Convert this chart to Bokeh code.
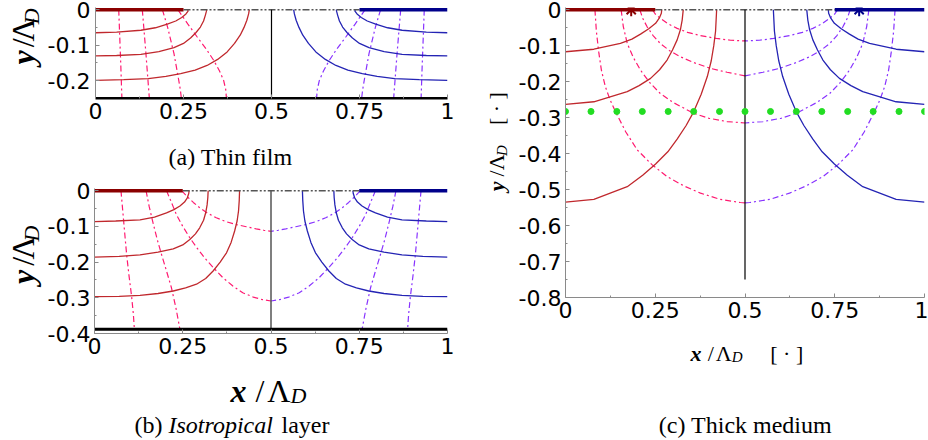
import math
from bokeh.plotting import figure
from bokeh.models import Range1d, FixedTicker
from bokeh.core.properties import value
from bokeh.layouts import row, column
from bokeh.embed import file_html
from bokeh.resources import INLINE

# ---------------- data ----------------
x_ticks = [0, 0.25, 0.5, 0.75, 1]
x_tick_labels = ["0", "0.25", "0.5", "0.75", "1"]
x_minor = [0.125, 0.375, 0.625, 0.875]
ya_ticks = [0, -0.1, -0.2]
ya_labels = ["0", "-0.1", "-0.2"]
yb_ticks = [0, -0.1, -0.2, -0.3, -0.4]
yb_labels = ["0", "-0.1", "-0.2", "-0.3", "-0.4"]
yc_ticks = [0, -0.1, -0.2, -0.3, -0.4, -0.5, -0.6, -0.7, -0.8]
yc_labels = ["0", "-0.1", "-0.2", "-0.3", "-0.4", "-0.5", "-0.6", "-0.7", "-0.8"]

elec_left_x = [0, 0.25]
elec_right_x = [0.75, 1]
gap_x = [0.25, 0.75]
surface_y = [0, 0]

# (a) thin film, depth -0.25
a_bottom_y = -0.25
a_red = [
    ([0, 0.06, 0.129, 0.17, 0.204, 0.228, 0.245, 0.257, 0.263, 0.262],
     [-0.065, -0.063, -0.058, -0.051, -0.041, -0.032, -0.022, -0.012, -0.004, 0]),
    ([0, 0.06, 0.129, 0.18, 0.223, 0.25, 0.27, 0.285, 0.298, 0.307, 0.312, 0.315, 0.316],
     [-0.13, -0.129, -0.126, -0.118, -0.107, -0.095, -0.08, -0.065, -0.049, -0.032, -0.016, -0.005, 0]),
    ([0, 0.08, 0.15, 0.2, 0.242, 0.283, 0.317, 0.347, 0.374, 0.395, 0.411, 0.422, 0.43, 0.435, 0.437],
     [-0.199, -0.197, -0.194, -0.188, -0.18, -0.17, -0.157, -0.14, -0.119, -0.095, -0.072, -0.05, -0.03, -0.012, 0]),
]
a_blue = [
    ([1, 0.94, 0.871, 0.83, 0.796, 0.772, 0.755, 0.743, 0.737, 0.738],
     [-0.065, -0.063, -0.058, -0.051, -0.041, -0.032, -0.022, -0.012, -0.004, 0]),
    ([1, 0.94, 0.871, 0.82, 0.777, 0.75, 0.73, 0.715, 0.702, 0.693, 0.688, 0.685, 0.684],
     [-0.13, -0.129, -0.126, -0.118, -0.107, -0.095, -0.08, -0.065, -0.049, -0.032, -0.016, -0.005, 0]),
    ([1, 0.92, 0.85, 0.8, 0.758, 0.717, 0.683, 0.653, 0.626, 0.605, 0.589, 0.578, 0.57, 0.565, 0.563],
     [-0.199, -0.197, -0.194, -0.188, -0.18, -0.17, -0.157, -0.14, -0.119, -0.095, -0.072, -0.05, -0.03, -0.012, 0]),
]
a_pink = [
    ([0.066, 0.069, 0.072, 0.075], [0, -0.08, -0.16, -0.25]),
    ([0.133, 0.138, 0.143, 0.148, 0.153], [0, -0.06, -0.12, -0.185, -0.25]),
    ([0.19, 0.205, 0.223, 0.235, 0.241, 0.244], [0, -0.05, -0.124, -0.19, -0.225, -0.25]),
    ([0.234, 0.262, 0.289, 0.314, 0.336, 0.352, 0.364, 0.37, 0.372],
     [0, -0.04, -0.077, -0.11, -0.143, -0.172, -0.199, -0.225, -0.25]),
]
a_violet = [
    ([0.934, 0.931, 0.928, 0.925], [0, -0.08, -0.16, -0.25]),
    ([0.867, 0.862, 0.857, 0.852, 0.847], [0, -0.06, -0.12, -0.185, -0.25]),
    ([0.81, 0.795, 0.777, 0.765, 0.759, 0.756], [0, -0.05, -0.124, -0.19, -0.225, -0.25]),
    ([0.766, 0.738, 0.711, 0.686, 0.664, 0.648, 0.636, 0.63, 0.628],
     [0, -0.04, -0.077, -0.11, -0.143, -0.172, -0.199, -0.225, -0.25]),
]

# (b) isotropical layer, bottom -0.388
b_bottom_y = -0.388
b_red = [
    ([0, 0.06, 0.129, 0.17, 0.204, 0.225, 0.242, 0.255, 0.263, 0.267, 0.268],
     [-0.087, -0.085, -0.082, -0.074, -0.062, -0.053, -0.043, -0.032, -0.02, -0.008, 0]),
    ([0, 0.07, 0.129, 0.18, 0.223, 0.25, 0.27, 0.286, 0.298, 0.309, 0.315, 0.319, 0.321, 0.322],
     [-0.186, -0.184, -0.18, -0.172, -0.163, -0.152, -0.137, -0.121, -0.104, -0.083, -0.062, -0.04, -0.02, 0]),
    ([0, 0.07, 0.129, 0.18, 0.223, 0.258, 0.289, 0.315, 0.336, 0.356, 0.374, 0.387, 0.397, 0.404, 0.408, 0.41, 0.411],
     [-0.297, -0.296, -0.293, -0.288, -0.281, -0.272, -0.262, -0.246, -0.225, -0.2, -0.174, -0.145, -0.113, -0.085, -0.057, -0.028, 0]),
]
b_blue = [
    ([1, 0.94, 0.871, 0.83, 0.796, 0.775, 0.758, 0.745, 0.737, 0.733, 0.732],
     [-0.087, -0.085, -0.082, -0.074, -0.062, -0.053, -0.043, -0.032, -0.02, -0.008, 0]),
    ([1, 0.93, 0.871, 0.82, 0.777, 0.75, 0.73, 0.714, 0.702, 0.691, 0.685, 0.681, 0.679, 0.678],
     [-0.186, -0.184, -0.18, -0.172, -0.163, -0.152, -0.137, -0.121, -0.104, -0.083, -0.062, -0.04, -0.02, 0]),
    ([1, 0.93, 0.871, 0.82, 0.777, 0.742, 0.711, 0.685, 0.664, 0.644, 0.626, 0.613, 0.603, 0.596, 0.592, 0.59, 0.589],
     [-0.297, -0.296, -0.293, -0.288, -0.281, -0.272, -0.262, -0.246, -0.225, -0.2, -0.174, -0.145, -0.113, -0.085, -0.057, -0.028, 0]),
]
b_pink = [
    ([0.075, 0.083, 0.091, 0.098, 0.105, 0.11, 0.113], [0, -0.09, -0.179, -0.24, -0.295, -0.345, -0.388]),
    ([0.146, 0.155, 0.167, 0.178, 0.19, 0.204, 0.218, 0.231, 0.242],
     [0, -0.045, -0.095, -0.138, -0.179, -0.225, -0.272, -0.33, -0.388]),
    ([0.204, 0.218, 0.232, 0.25, 0.27, 0.29, 0.312, 0.337, 0.364, 0.392, 0.42, 0.45, 0.475, 0.5],
     [0, -0.033, -0.067, -0.1, -0.132, -0.16, -0.188, -0.216, -0.244, -0.267, -0.286, -0.298, -0.305, -0.309]),
    ([0.247, 0.262, 0.28, 0.298, 0.32, 0.345, 0.373, 0.402, 0.43, 0.458, 0.48, 0.5],
     [0, -0.016, -0.033, -0.048, -0.063, -0.076, -0.087, -0.095, -0.101, -0.107, -0.111, -0.114]),
]
b_violet = [
    ([0.925, 0.917, 0.909, 0.902, 0.895, 0.89, 0.887], [0, -0.09, -0.179, -0.24, -0.295, -0.345, -0.388]),
    ([0.854, 0.845, 0.833, 0.822, 0.81, 0.796, 0.782, 0.769, 0.758],
     [0, -0.045, -0.095, -0.138, -0.179, -0.225, -0.272, -0.33, -0.388]),
    ([0.796, 0.782, 0.768, 0.75, 0.73, 0.71, 0.688, 0.663, 0.636, 0.608, 0.58, 0.55, 0.525, 0.5],
     [0, -0.033, -0.067, -0.1, -0.132, -0.16, -0.188, -0.216, -0.244, -0.267, -0.286, -0.298, -0.305, -0.309]),
    ([0.753, 0.738, 0.72, 0.702, 0.68, 0.655, 0.627, 0.598, 0.57, 0.542, 0.52, 0.5],
     [0, -0.016, -0.033, -0.048, -0.063, -0.076, -0.087, -0.095, -0.101, -0.107, -0.111, -0.114]),
]

# (c) thick medium
c_mid_y = [0, -0.75]
c_red = [
    ([0, 0.079, 0.153, 0.185, 0.209, 0.232, 0.251, 0.262, 0.267, 0.268],
     [-0.117, -0.11, -0.094, -0.082, -0.068, -0.053, -0.038, -0.022, -0.01, 0]),
    ([0, 0.079, 0.172, 0.205, 0.237, 0.262, 0.283, 0.298, 0.311, 0.32, 0.325, 0.328],
     [-0.263, -0.256, -0.228, -0.211, -0.191, -0.167, -0.14, -0.112, -0.084, -0.056, -0.029, 0]),
    ([0, 0.079, 0.172, 0.215, 0.251, 0.285, 0.311, 0.336, 0.357, 0.378, 0.395, 0.406, 0.413, 0.418, 0.421],
     [-0.535, -0.527, -0.492, -0.46, -0.429, -0.395, -0.36, -0.322, -0.284, -0.235, -0.186, -0.142, -0.1, -0.06, 0]),
]
c_blue = [
    ([1, 0.921, 0.847, 0.815, 0.791, 0.768, 0.749, 0.738, 0.733, 0.732],
     [-0.117, -0.11, -0.094, -0.082, -0.068, -0.053, -0.038, -0.022, -0.01, 0]),
    ([1, 0.921, 0.828, 0.795, 0.763, 0.738, 0.717, 0.702, 0.689, 0.68, 0.675, 0.672],
     [-0.263, -0.256, -0.228, -0.211, -0.191, -0.167, -0.14, -0.112, -0.084, -0.056, -0.029, 0]),
    ([1, 0.921, 0.828, 0.785, 0.749, 0.715, 0.689, 0.664, 0.643, 0.622, 0.605, 0.594, 0.587, 0.582, 0.579],
     [-0.535, -0.527, -0.492, -0.46, -0.429, -0.395, -0.36, -0.322, -0.284, -0.235, -0.186, -0.142, -0.1, -0.06, 0]),
]
c_pink = [
    ([0.082, 0.086, 0.093, 0.1, 0.111, 0.124, 0.14, 0.168, 0.2, 0.24, 0.283, 0.33, 0.376, 0.43, 0.487, 0.5],
     [0, -0.06, -0.121, -0.168, -0.214, -0.25, -0.285, -0.34, -0.39, -0.43, -0.464, -0.49, -0.51, -0.527, -0.536, -0.537]),
    ([0.155, 0.161, 0.172, 0.189, 0.209, 0.234, 0.264, 0.3, 0.357, 0.4, 0.45, 0.5],
     [0, -0.047, -0.094, -0.133, -0.168, -0.202, -0.233, -0.258, -0.288, -0.302, -0.311, -0.315]),
    ([0.207, 0.215, 0.227, 0.244, 0.264, 0.29, 0.32, 0.36, 0.403, 0.45, 0.5],
     [0, -0.024, -0.047, -0.072, -0.094, -0.114, -0.131, -0.148, -0.163, -0.174, -0.184]),
    ([0.242, 0.25, 0.264, 0.285, 0.311, 0.34, 0.376, 0.42, 0.46, 0.5],
     [0, -0.012, -0.024, -0.039, -0.052, -0.063, -0.072, -0.08, -0.085, -0.087]),
]
c_violet = [
    ([0.918, 0.914, 0.907, 0.9, 0.889, 0.876, 0.86, 0.832, 0.8, 0.76, 0.717, 0.67, 0.624, 0.57, 0.513, 0.5],
     [0, -0.06, -0.121, -0.168, -0.214, -0.25, -0.285, -0.34, -0.39, -0.43, -0.464, -0.49, -0.51, -0.527, -0.536, -0.537]),
    ([0.845, 0.839, 0.828, 0.811, 0.791, 0.766, 0.736, 0.7, 0.643, 0.6, 0.55, 0.5],
     [0, -0.047, -0.094, -0.133, -0.168, -0.202, -0.233, -0.258, -0.288, -0.302, -0.311, -0.315]),
    ([0.793, 0.785, 0.773, 0.756, 0.736, 0.71, 0.68, 0.64, 0.597, 0.55, 0.5],
     [0, -0.024, -0.047, -0.072, -0.094, -0.114, -0.131, -0.148, -0.163, -0.174, -0.184]),
    ([0.758, 0.75, 0.736, 0.715, 0.689, 0.66, 0.624, 0.58, 0.54, 0.5],
     [0, -0.012, -0.024, -0.039, -0.052, -0.063, -0.072, -0.08, -0.085, -0.087]),
]
dots_x = [0, 0.071, 0.143, 0.214, 0.286, 0.357, 0.429, 0.5, 0.571, 0.643, 0.714, 0.786, 0.857, 0.929, 1.0]
dots_y = [-0.283] * 15
star_red = ([0.183], [0])
star_blue = ([0.818], [0])

caption_a = "(a) Thin film"
caption_b = ["(b)", "Isotropical", "layer"]
caption_c = "(c) Thick medium"

# ---------------- style ----------------
RED_E = "#8b0000"
BLUE_E = "#00008b"
RED = "#c0282d"
BLUE = "#2424b4"
PINK = "#ff1a70"
VIOLET = "#8833ff"
GREEN = "#22dd22"
AXIS = "#8a8a8a"
DASH = "6 3 2 3"
TICK_FONT = "DejaVu Sans"
SERIF = "Liberation Serif"


def make_fig(width, height, left, right, top, bottom, yr, yt, yl, yminor, ystand=4):
    p = figure(width=width, height=height, x_range=Range1d(0, 1), y_range=Range1d(*yr),
               output_backend="svg", toolbar_location=None,
               min_border_left=left, min_border_right=right,
               min_border_top=top, min_border_bottom=bottom)
    p.outline_line_color = None
    p.grid.visible = False
    p.background_fill_color = "white"
    p.border_fill_color = "white"
    p.xaxis.ticker = FixedTicker(ticks=x_ticks, minor_ticks=x_minor)
    p.xaxis.major_label_overrides = dict(zip(x_ticks, x_tick_labels))
    p.yaxis.ticker = FixedTicker(ticks=yt, minor_ticks=yminor)
    p.yaxis.major_label_overrides = dict(zip(yt, yl))
    for ax in (p.xaxis[0], p.yaxis[0]):
        ax.axis_line_color = AXIS
        ax.major_tick_line_color = AXIS
        ax.minor_tick_line_color = AXIS
        ax.major_tick_in = 4
        ax.major_tick_out = 0
        ax.minor_tick_in = 2
        ax.minor_tick_out = 0
        ax.major_label_text_font = TICK_FONT
        ax.major_label_text_font_size = "22px"
        ax.major_label_text_color = "black"
    p.xaxis.major_label_standoff = 4
    p.yaxis.major_label_standoff = ystand
    return p


def blank(w, h):
    p = figure(width=w, height=h, x_range=Range1d(0, w), y_range=Range1d(0, h),
               output_backend="svg", toolbar_location=None,
               x_axis_type=None, y_axis_type=None, min_border=0)
    p.outline_line_color = None
    p.grid.visible = False
    p.background_fill_color = "white"
    p.border_fill_color = "white"
    return p


class Canvas:
    """A blank text strip placed at global pixel offset (gx0, gy0)."""
    def __init__(self, gx0, gy0, w, h):
        self.gx0, self.gy0, self.w, self.h = gx0, gy0, w, h
        self.p = blank(w, h)

    def text(self, gx, gy, s, size, style="normal", angle=0.0, align="left",
             baseline="alphabetic", font=SERIF):
        self.p.text(x=[gx - self.gx0], y=[self.h - (gy - self.gy0)], text=[s], angle=angle,
                    text_font=value(font), text_font_size=value(f"{size}px"),
                    text_font_style=value(style), text_align=value(align),
                    text_baseline=value(baseline), text_color="black")

    def compose(self, gx, gy, pieces, vertical=False):
        # pieces: (text, size, style, glyph_w, advance_px, sub_px)
        for s, size, style, gw, adv, sub in pieces:
            if vertical:
                # rotated text: anchor each piece at its centre (rotation-invariant)
                cx = gx + sub - 0.33 * size
                cy = gy - gw / 2.0
                self.text(cx, cy, s, size, style, angle=math.pi / 2,
                          align="center", baseline="middle")
                gy -= adv
            else:
                self.text(gx, gy + sub, s, size, style)
                gx += adv


def ax_pieces(var, big, bracket=False):
    k = big / 32.0
    small = round(big * 0.69)
    pcs = [(var, big, "bold italic", 16 * k, 25 * k, 0),
           ("/", big, "normal", 9 * k, 11.7 * k, 0),
           ("\u039b", big, "normal", 23 * k, 23.3 * k, 0),
           ("D", small, "italic", 16 * k, 16 * k + (40 * k if bracket else 0), 5 * k)]
    if bracket:
        pcs.append(("[ \u00b7 ]", big, "normal", 45 * k, 0, 0))
    return pcs


def draw_common(p, red, blue, pink, violet):
    for xs, ys in pink:
        p.line(xs, ys, line_color=PINK, line_width=1.2, line_dash=DASH)
    for xs, ys in violet:
        p.line(xs, ys, line_color=VIOLET, line_width=1.2, line_dash=DASH)
    for xs, ys in red:
        p.line(xs, ys, line_color=RED, line_width=1.3)
    for xs, ys in blue:
        p.line(xs, ys, line_color=BLUE, line_width=1.3)
    p.line(gap_x, surface_y, line_color="#555555", line_width=1.5, line_dash="7 2 2 2 2 2")
    p.line(elec_left_x, surface_y, line_color=RED_E, line_width=3.5)
    p.line(elec_right_x, surface_y, line_color=BLUE_E, line_width=3.5)


# ---------------- panel (a) ----------------
pa = make_fig(416, 133, 48, 13, 7, 35, (-0.25, 0.006), ya_ticks, ya_labels, [-0.05, -0.15], ystand=5)
pa.xaxis.axis_line_color = "black"
pa.xaxis.axis_line_width = 2
draw_common(pa, a_red, a_blue, a_pink, a_violet)
pa.line([0.5, 0.5], [0, a_bottom_y], line_color="black", line_width=1.2)
pa.line([0, 1], [a_bottom_y, a_bottom_y], line_color="black", line_width=3)

ylab_a = Canvas(0, 0, 44, 133)
ylab_a.compose(33, 81, ax_pieces("y", 32), vertical=True)
cap_a = Canvas(0, 133, 460, 37)
cap_a.text(230, 156, caption_a, 24, align="center")

# ---------------- panel (b) ----------------
pb = make_fig(416, 200, 48, 13, 18, 37, (-0.4, 0.006), yb_ticks, yb_labels, [-0.05, -0.15, -0.25, -0.35])
draw_common(pb, b_red, b_blue, b_pink, b_violet)
pb.line([0.5, 0.5], [0, b_bottom_y], line_color="#555555", line_width=1.5)
pb.line([0, 1], [b_bottom_y, b_bottom_y], line_color="black", line_width=3)

ylab_b = Canvas(0, 170, 44, 200)
ylab_b.compose(33, 300, ax_pieces("y", 32), vertical=True)
cap_b = Canvas(0, 370, 460, 70)
cap_b.compose(230, 390, ax_pieces("x", 32))
cap_b.text(134, 424, caption_b[0], 24)
cap_b.text(168, 424, caption_b[1], 24, style="italic")
cap_b.text(281, 424, caption_b[2], 24)

# ---------------- panel (c) ----------------
pc = make_fig(416, 335, 53, 4, 7, 38, (-0.8, 0.006), yc_ticks, yc_labels,
              [-0.05, -0.15, -0.25, -0.35, -0.45, -0.55, -0.65, -0.75])
draw_common(pc, c_red, c_blue, c_pink, c_violet)
pc.line([0.5, 0.5], c_mid_y, line_color="black", line_width=1.2)
pc.scatter(dots_x, dots_y, size=6, color=GREEN)
pc.scatter(star_red[0], star_red[1], marker="asterisk", size=13, line_color=RED_E, line_width=2)
pc.scatter(star_blue[0], star_blue[1], marker="asterisk", size=13, line_color=BLUE_E, line_width=2)

ylab_c = Canvas(460, 0, 52, 335)
ylab_c.compose(503, 212, ax_pieces("y", 22, bracket=True), vertical=True)
cap_c = Canvas(460, 335, 468, 105)
cap_c.compose(690, 353, ax_pieces("x", 22, bracket=True))
cap_c.text(745, 424, caption_c, 24, align="center")

left = column(row(ylab_a.p, pa), cap_a.p, row(ylab_b.p, pb), cap_b.p)
right = column(row(ylab_c.p, pc), cap_c.p)
layout = row(left, right)
open("out.html", "w").write(file_html(layout, INLINE, "Electrodes"))
